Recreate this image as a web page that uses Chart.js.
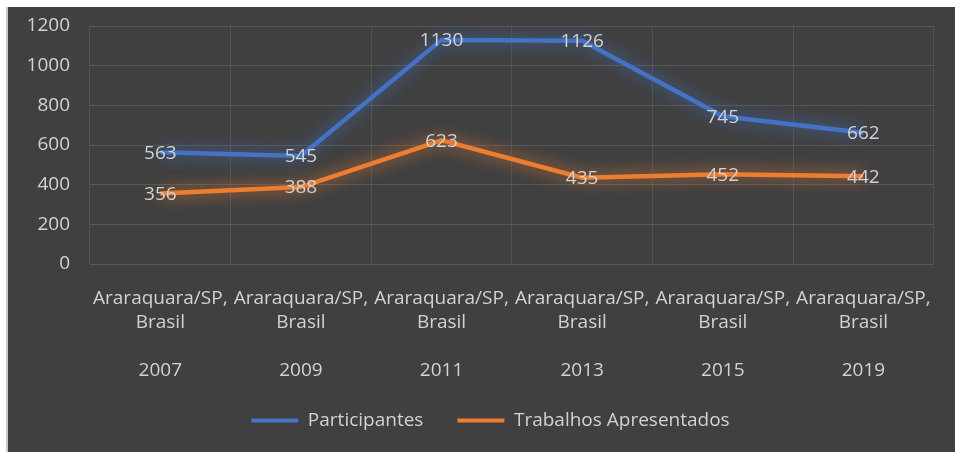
<!DOCTYPE html>
<html>
<head>
<meta charset="utf-8">
<script src="https://cdn.jsdelivr.net/npm/chart.js@4/dist/chart.umd.min.js"></script>
<style>
  html, body { margin: 0; padding: 0; background: #ffffff; }
  #wrap { position: relative; width: 955px; height: 452px; }
  canvas { display: block; }
</style>
</head>
<body>
<div id="wrap"><canvas id="c" width="955" height="452"></canvas></div>
<script>
const places = ["Araraquara/SP,", "Araraquara/SP,", "Araraquara/SP,", "Araraquara/SP,", "Araraquara/SP,", "Araraquara/SP,"];
const countries = ["Brasil", "Brasil", "Brasil", "Brasil", "Brasil", "Brasil"];
const years = ["2007", "2009", "2011", "2013", "2015", "2019"];
const participantes = [563, 545, 1130, 1126, 745, 662];
const trabalhos = [356, 388, 623, 435, 452, 442];
const yTicks = [0, 200, 400, 600, 800, 1000, 1200];

const labels = years.map((y, i) => [places[i], countries[i], "", y]);

const FONT = "'Open Sans', 'Liberation Sans', sans-serif";
const TEXT = "#d2d2d2";
const BLUE = "#4472C4";
const ORANGE = "#ED7D31";

const bgPlugin = {
  id: 'bg',
  beforeDraw(chart) {
    const ctx = chart.ctx;
    ctx.save();
    ctx.fillStyle = '#ffffff';
    ctx.fillRect(0, 0, chart.width, chart.height);
    ctx.fillStyle = '#c8c8c8';
    ctx.fillRect(6, 7, 2, chart.height - 7);
    ctx.fillStyle = '#404040';
    ctx.fillRect(8, 7, chart.width - 8, chart.height - 7);
    ctx.restore();
  }
};

const legendShift = {
  id: 'legendShift',
  afterLayout(chart) {
    const lg = chart.legend;
    if (!lg) return;
    const dx = 17;
    lg.left += dx;
    lg.right += dx;
    if (lg.legendHitBoxes) lg.legendHitBoxes.forEach(b => { b.left += dx; });
  }
};

const glowPlugin = {
  id: 'glow',
  beforeDatasetDraw(chart, args) {
    const ds = chart.data.datasets[args.index];
    chart.ctx.save();
    chart.ctx.shadowColor = ds.borderColor;
    chart.ctx.shadowBlur = 16;
  },
  afterDatasetDraw(chart) {
    chart.ctx.restore();
  }
};

const labelPlugin = {
  id: 'valueLabels',
  afterDatasetsDraw(chart) {
    const ctx = chart.ctx;
    ctx.save();
    ctx.font = "19px " + FONT;
    ctx.fillStyle = TEXT;
    ctx.textAlign = 'center';
    ctx.textBaseline = 'middle';
    chart.data.datasets.forEach((ds, di) => {
      const meta = chart.getDatasetMeta(di);
      meta.data.forEach((pt, i) => {
        ctx.fillText(String(ds.data[i]), pt.x, pt.y + 1);
      });
    });
    ctx.restore();
  }
};

new Chart(document.getElementById('c'), {
  type: 'line',
  data: {
    labels: labels,
    datasets: [
      {
        label: 'Participantes',
        data: participantes,
        borderColor: BLUE,
        backgroundColor: BLUE,
        borderWidth: 4.5,
        pointRadius: 0,
        tension: 0
      },
      {
        label: 'Trabalhos Apresentados',
        data: trabalhos,
        borderColor: ORANGE,
        backgroundColor: ORANGE,
        borderWidth: 4.5,
        pointRadius: 0,
        tension: 0
      }
    ]
  },
  options: {
    responsive: false,
    animation: false,
    devicePixelRatio: 1,
    layout: { padding: { left: 8, top: 26, right: 16, bottom: 12 } },
    plugins: {
      tooltip: { enabled: false },
      legend: {
        position: 'bottom',
        labels: {
          color: TEXT,
          font: { family: FONT, size: 19 },
          boxWidth: 47,
          boxHeight: 4,
          padding: 34,
          generateLabels(chart) {
            return chart.data.datasets.map((ds, i) => ({
              text: ds.label,
              fillStyle: ds.borderColor,
              strokeStyle: ds.borderColor,
              lineWidth: 0,
              fontColor: TEXT,
              hidden: false,
              datasetIndex: i
            }));
          }
        }
      }
    },
    scales: {
      x: {
        offset: true,
        grid: { color: 'rgba(255,255,255,0.09)', drawTicks: false, offset: true },
        border: { display: false },
        ticks: {
          color: TEXT,
          font: { family: FONT, size: 19, lineHeight: 1.25 },
          padding: 23,
          autoSkip: false,
          maxRotation: 0,
          minRotation: 0
        },
        afterFit(scale) { scale.height = 113; }
      },
      y: {
        min: 0,
        max: 1200,
        afterBuildTicks(scale) { scale.ticks = yTicks.map(v => ({ value: v })); },
        grid: { color: 'rgba(255,255,255,0.12)', drawTicks: false },
        border: { display: false },
        ticks: {
          color: TEXT,
          font: { family: FONT, size: 19 },
          padding: 20,
          callback: (v) => String(v)
        },
        afterFit(scale) {
          scale.width = 82;
          scale.paddingTop = 12;
          scale.paddingBottom = 12;
        }
      }
    }
  },
  plugins: [bgPlugin, legendShift, glowPlugin, labelPlugin]
});
</script>
</body>
</html>
